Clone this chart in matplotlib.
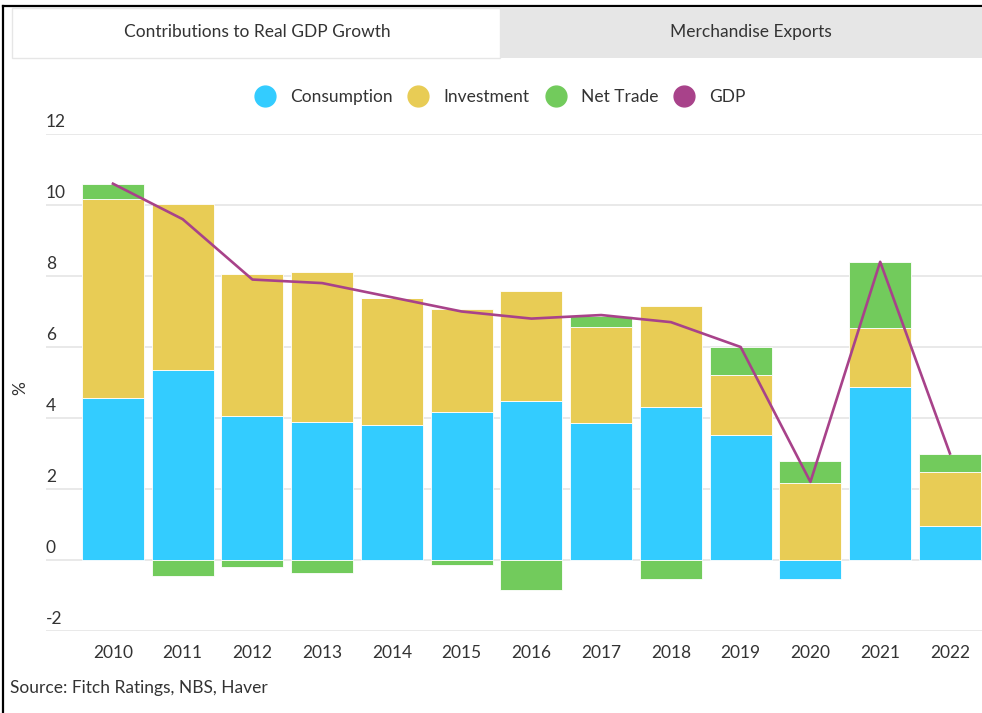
import numpy as np
import matplotlib
matplotlib.use("Agg")
import matplotlib.pyplot as plt
from matplotlib.patches import Rectangle
from matplotlib.lines import Line2D
import matplotlib.transforms as mtransforms

plt.rcParams['font.family'] = ['Lato', 'DejaVu Sans']

# data
years = ["2010", "2011", "2012", "2013", "2014", "2015", "2016",
         "2017", "2018", "2019", "2020", "2021", "2022"]
consumption = [4.56, 5.34, 4.07, 3.90, 3.79, 4.18, 4.49, 3.87, 4.30, 3.52, -0.54, 4.87, 0.97]
investment = [5.61, 4.68, 3.98, 4.22, 3.59, 2.89, 3.10, 2.70, 2.86, 1.70, 2.17, 1.67, 1.50]
net_trade = [0.42, -0.45, -0.20, -0.36, 0.00, -0.15, -0.85, 0.31, -0.54, 0.78, 0.61, 1.86, 0.52]
gdp = [10.6, 9.6, 7.9, 7.8, 7.4, 7.0, 6.8, 6.9, 6.7, 6.0, 2.2, 8.4, 3.0]

colors = {"Consumption": "#33ccff", "Investment": "#e8cc55",
          "Net Trade": "#72cb5c", "GDP": "#a8428a"}
text_col = "#333333"
fs = 12.5

W, H = 982, 713
fig = plt.figure(figsize=(W / 100, H / 100), dpi=100)

# axes placed to match the pixel layout of the reference
ax = fig.add_axes([46 / W, (H - 631) / H, (W - 46) / W, (631 - 134) / H])
x = np.arange(len(years))

pos_bottom = np.zeros(len(years))
neg_bottom = np.zeros(len(years))
for name, vals in [("Consumption", consumption), ("Investment", investment),
                   ("Net Trade", net_trade)]:
    vals = np.array(vals)
    bottoms = np.where(vals >= 0, pos_bottom, neg_bottom)
    ax.bar(x, vals, width=0.89, bottom=bottoms, color=colors[name],
           edgecolor="white", linewidth=0.6, zorder=2)
    pos_bottom += np.where(vals >= 0, vals, 0)
    neg_bottom += np.where(vals < 0, vals, 0)

ax.plot(x, gdp, color=colors["GDP"], linewidth=1.9, zorder=3)

ax.set_xlim(-0.96, 12.46)
ax.set_ylim(-2, 12)
ax.set_yticks(range(-2, 13, 2))
ax.yaxis.grid(True, color="#e3e3e3", linewidth=1.1, zorder=0)
ax.set_axisbelow(True)
for s in ax.spines.values():
    s.set_visible(False)
ax.tick_params(axis="y", length=0, labelleft=False)
ax.tick_params(axis="x", length=0, pad=10, labelsize=fs, labelcolor=text_col)
ax.set_xticks(x)
ax.set_xticklabels(years)

# y labels sit above the gridlines, left aligned
trans = mtransforms.blended_transform_factory(ax.transAxes, ax.transData)
for v in range(-2, 13, 2):
    ax.text(0.0, v + 0.1, str(v), transform=trans, ha="left", va="bottom",
            fontsize=fs, color=text_col)

fig.text(20 / W, 1 - 388 / H, "%", rotation=90, ha="center", va="center",
         fontsize=fs, color=text_col)

# legend
handles = [Line2D([], [], marker="o", linestyle="none", markersize=15,
                  markerfacecolor=colors[n], markeredgecolor=colors[n], label=n)
           for n in ["Consumption", "Investment", "Net Trade", "GDP"]]
leg = fig.legend(handles=handles, loc="center", ncol=4, frameon=False,
                 bbox_to_anchor=(500 / W, 1 - 97 / H), fontsize=fs,
                 handletextpad=0.85, columnspacing=0.9, handlelength=1.2)
for t in leg.get_texts():
    t.set_color(text_col)

# tabs at the top
fig.patches.append(Rectangle((12 / W, 1 - 58 / H), 488 / W, 50 / H,
                             transform=fig.transFigure, facecolor="white",
                             edgecolor="#e6e6e6", linewidth=1))
fig.patches.append(Rectangle((500 / W, 1 - 58 / H), 482 / W, 50 / H,
                             transform=fig.transFigure, facecolor="#e6e6e6",
                             edgecolor="none"))
fig.text(257 / W, 1 - 32 / H, "Contributions to Real GDP Growth", ha="center",
         va="center", fontsize=fs, color=text_col)
fig.text(751 / W, 1 - 32 / H, "Merchandise Exports", ha="center",
         va="center", fontsize=fs, color=text_col)

# frame lines of the screenshot
fig.lines.append(Line2D([3 / W, 3 / W], [0, 1 - 6 / H], transform=fig.transFigure,
                        color="black", linewidth=1.6))
fig.lines.append(Line2D([3 / W, 1], [1 - 6 / H, 1 - 6 / H], transform=fig.transFigure,
                        color="black", linewidth=1.6))

fig.text(10 / W, 1 - 688 / H, "Source: Fitch Ratings, NBS, Haver", ha="left",
         va="center", fontsize=fs, color=text_col)

fig.savefig("out.png", dpi=100)
